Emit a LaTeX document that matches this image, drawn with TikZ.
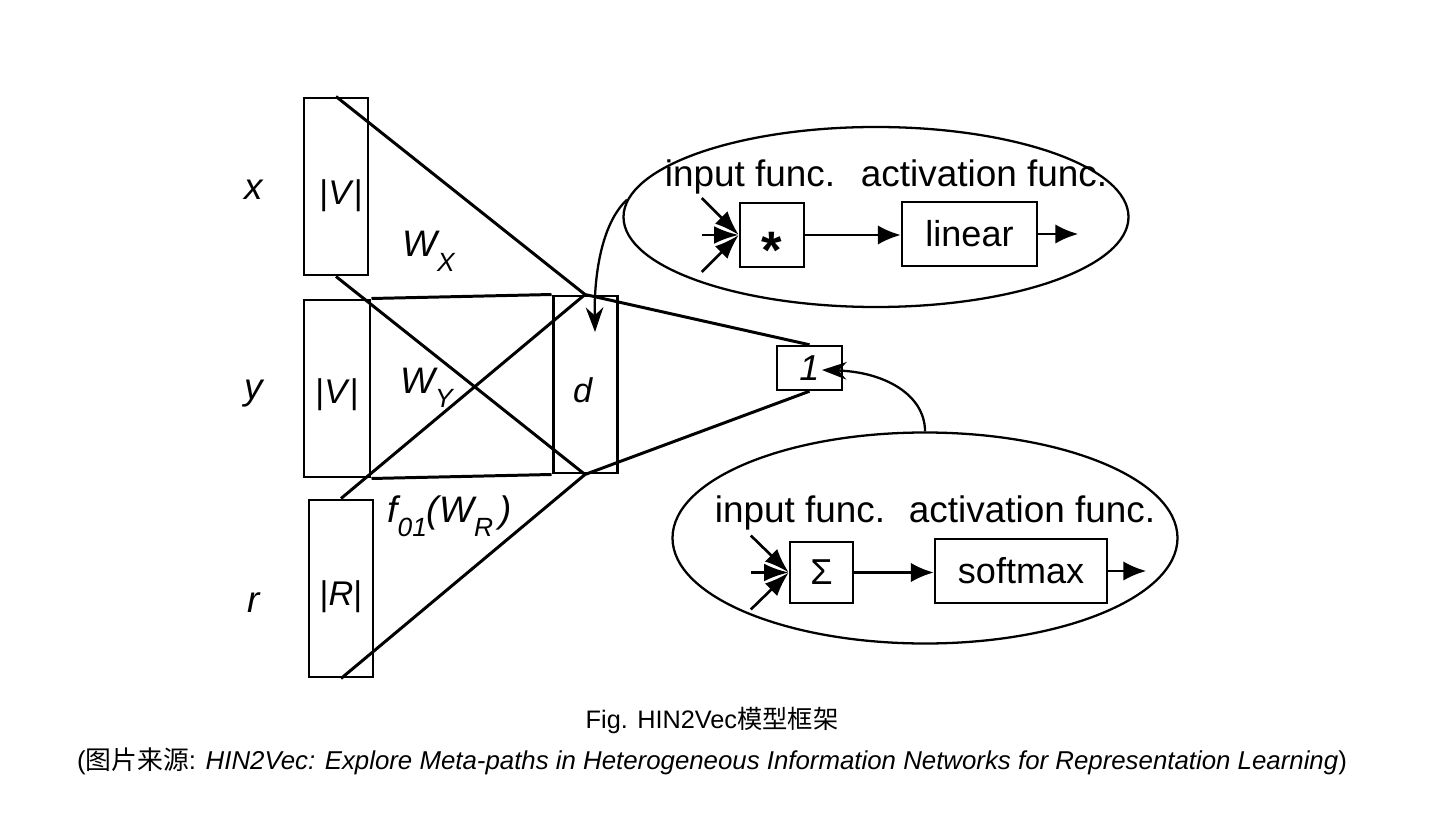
\documentclass[tikz,border=0pt]{standalone}
\usepackage{fontspec}
\setmainfont{Liberation Sans}
\newfontfamily\cjk{Noto Sans CJK SC}
\usetikzlibrary{arrows.meta,shapes.geometric}

% one pixel of the reference
\newcommand{\px}{0.02cm}
% lowered subscript, as in the original figure
\newcommand{\lowsub}[1]{\raisebox{-0.4em}{\fontsize{15}{16}\selectfont #1}}

\tikzset{
  layer/.style={draw, line width=1.7pt, inner sep=0pt, minimum width=64*\px,
    minimum height=177*\px},
  val/.style={anchor=base, font=\fontsize{19.5}{24}\selectfont},
  wire/.style={line width=1.7pt},
  varname/.style={anchor=base, font=\fontsize{21}{24}\selectfont\itshape},
  weight/.style={anchor=base west, inner sep=0pt, font=\fontsize{21}{24}\selectfont\itshape},
  unit/.style={draw, ellipse, line width=1.3pt, inner sep=0pt},
  func/.style={anchor=base, font=\fontsize{21}{24}\selectfont},
  op/.style={draw, line width=1.4pt, inner sep=0pt, minimum width=64*\px,
    minimum height=64*\px, font=\fontsize{20.5}{24}\selectfont},
  flow/.style={line width=1.5pt, -{Latex[length=13pt,width=11pt]}},
  inflow/.style={line width=1.5pt, -{Latex[length=14pt,width=10pt]}},
  feed/.style={line width=1.3pt, -{Stealth[length=14pt,width=10pt]}},
  caption/.style={font=\fontsize{14.4}{17}\selectfont}
}

\begin{document}
\begin{tikzpicture}[x=\px, y=-\px]
\useasboundingbox (0,0) rectangle (1446,827);

% input layers and hidden layer
\node[layer] (xbox) at (336,186.5) {};
\node[layer, minimum width=66*\px] (ybox) at (337,388.5) {};
\node[layer] (rbox) at (341,588.5) {};
\node[layer] (dbox) at (585,384.5) {};

\node[val] (xval) at (341,205) {|\textit{V}|};
\node[val] (yval) at (337,403) {|\textit{V}|};
\node[val] (rval) at (341,605) {|\textit{R}|};
\node[val] (dval) at (583,402) {\textit{d}};

\node[varname] (xlab) at (254,200) {x};
\node[varname] (ylab) at (254,399) {y};
\node[varname] (rlab) at (254,612) {r};

% weights
\node[weight] (wx) at (402,257) {W\lowsub{X}};
\node[weight] (wy) at (400,393) {W\lowsub{Y}};
\node[weight] (wr) at (387,522) {f\lowsub{01}(W\lowsub{R}\,)};

% output
\node[op, minimum width=65*\px, minimum height=44*\px,
  font=\fontsize{20.5}{24}\selectfont\itshape] (one) at (809.5,368) {1};

\draw[wire] (xbox.north) -- (dbox.north);
\draw[wire] (xbox.south) -- (dbox.south);
\draw[wire] (rbox.north) -- (dbox.north);
\draw[wire] (rbox.south) -- (dbox.south);
\draw[wire] (ybox.north east) -- (dbox.north west);
\draw[wire] (ybox.south east) -- (dbox.south west);
\draw[wire] (dbox.north) -- (one.north);
\draw[wire] (dbox.south) -- (one.south);

% hidden unit
\node[unit, minimum width=505*\px, minimum height=180*\px] (topell) at (876,217) {};
\node[func] (in1) at (750,187) {input func.};
\node[func] (act1) at (984,187) {activation func.};
\node[op] (star) at (772,235) {\fontsize{30}{30}\selectfont\bfseries\smash{\raisebox{-0.64em}{*}}};
\node[op, minimum width=135*\px] (lin) at (969.5,234) {linear};
\foreach \dy in {-37,0,37}
  \draw[inflow] (star.west) ++(-37,\dy) -- (star.west);
\draw[flow] (star.east) -- (star.east -| lin.west);
\draw[flow] (lin.east) -- ++(40,0);

% output unit
\node[unit, minimum width=505*\px, minimum height=211*\px] (lowell) at (925,538) {};
\node[func] (in2) at (800,522) {input func.};
\node[func] (act2) at (1032,522) {activation func.};
\node[op, minimum width=63*\px, minimum height=61*\px] (sum) at (821.5,572.5) {Σ};
\node[op, minimum width=172*\px] (soft) at (1021,571) {softmax};
\foreach \dy in {-37,0,37}
  \draw[inflow] (sum.west) ++(-38,\dy) -- (sum.west);
\draw[flow] (sum.east) -- (sum.east -| soft.west);
\draw[flow] (soft.east) -- ++(38,0);

% pointers from units
\coordinate (dtip) at (595,332);
\coordinate (onetip) at (822,370);
\draw[feed] (topell.176) .. controls (600,225) and (594,280) .. (dtip);
\draw[feed] (lowell.north) .. controls (925,395) and (885,372) .. (onetip);

% caption
\node[caption] (cap1) at (712,720) {Fig. HIN2Vec{\cjk 模型框架}};
\node[caption, font=\fontsize{14.7}{17}\selectfont] (cap2) at (712,761) {({\cjk 图片来源}: \textit{HIN2Vec: Explore Meta-paths in Heterogeneous Information Networks for Representation Learning})};
\end{tikzpicture}
\end{document}
